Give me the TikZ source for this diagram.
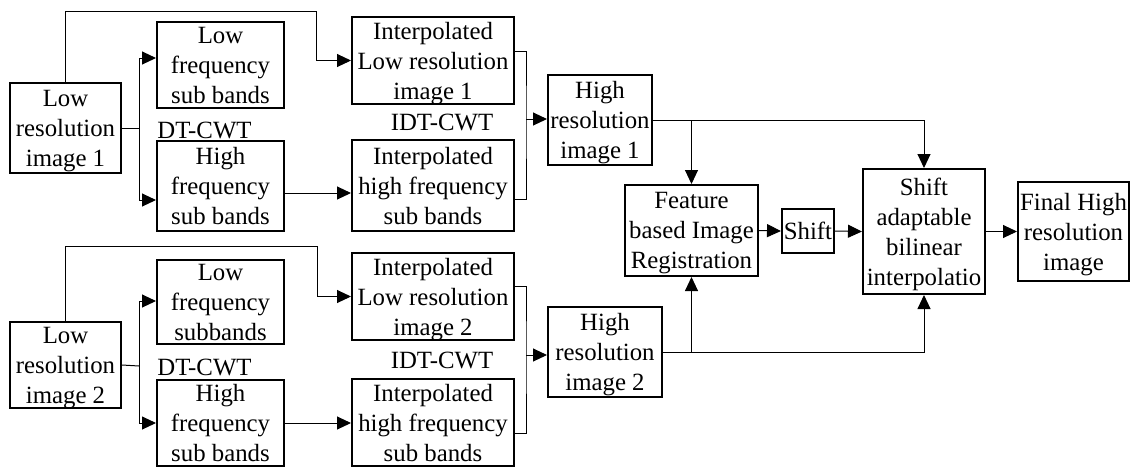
\documentclass[tikz,border=0pt]{standalone}
\usepackage{fontspec}
\setmainfont{Liberation Serif}
\usetikzlibrary{arrows.meta}

\begin{document}
\begin{tikzpicture}[x=0.5pt,y=-0.5pt,
  box/.style={draw,line width=1pt,inner sep=0pt,align=center,text depth=-3.5pt,font=\fontsize{12.4}{15}\selectfont},
  lbl/.style={inner sep=0pt,font=\fontsize{12.4}{15}\selectfont},
  arr/.style={-{Triangle[length=7pt,width=6.5pt]},line width=0.5pt},
  ln/.style={line width=0.5pt}]

\useasboundingbox (0,0) rectangle (1130,468);

% first image
\node[box,minimum width=55.5pt,minimum height=45pt,text depth=-0.5pt] (lr1) at (65.5,128) {Low\\resolution\\image 1};
\node[box,minimum width=63.5pt,minimum height=43pt] (lf1) at (220.5,65) {Low\\frequency\\sub bands};
\node[box,minimum width=63.5pt,minimum height=45pt] (hf1) at (220.5,186) {High\\frequency\\sub bands};
\node[box,minimum width=81pt,minimum height=43.5pt] (il1) at (433,60.5) {Interpolated\\Low resolution\\image 1};
\node[box,minimum width=81pt,minimum height=45.5pt] (ih1) at (433,185.5) {Interpolated\\high frequency\\sub bands};
\node[box,minimum width=52pt,minimum height=45pt] (hr1) at (600,120) {High\\resolution\\image 1};
\node[lbl,anchor=west] (dt1) at (157,130) {DT-CWT};
\node[lbl] (idt1) at (442,122) {IDT-CWT};

% second image
\node[box,minimum width=55.5pt,minimum height=43pt] (lr2) at (65.5,365) {Low\\resolution\\image 2};
\node[box,minimum width=63.5pt,minimum height=42pt] (lf2) at (220.5,302) {Low\\frequency\\subbands};
\node[box,minimum width=63.5pt,minimum height=43pt] (hf2) at (220.5,423) {High\\frequency\\sub bands};
\node[box,minimum width=81pt,minimum height=43.5pt] (il2) at (433,296.5) {Interpolated\\Low resolution\\image 2};
\node[box,minimum width=81pt,minimum height=43.5pt] (ih2) at (433,422.5) {Interpolated\\high frequency\\sub bands};
\node[box,minimum width=57pt,minimum height=45pt] (hr2) at (605,352) {High\\resolution\\image 2};
\node[lbl,anchor=west] (dt2) at (157,367) {DT-CWT};
\node[lbl] (idt2) at (442,360) {IDT-CWT};

% registration and fusion
\node[box,minimum width=66.5pt,minimum height=45.5pt] (feat) at (691.5,230.5) {Feature\\based Image\\Registration};
\node[box,minimum width=26pt,minimum height=22pt,text depth=0pt] (shift) at (808,231) {Shift};
\node[box,minimum width=61pt,minimum height=62.5pt,text depth=-5.5pt] (sabi) at (924,231.5) {Shift\\adaptable\\bilinear\\interpolatio};
\node[box,minimum width=55.5pt,minimum height=49.5pt,text depth=-2pt] (final) at (1073.5,231.5) {Final High\\resolution\\image};

\coordinate (s1) at (139,128);
\coordinate (m1) at (526,119);
\coordinate (s2) at (139,366);
\coordinate (m2) at (526,355);

\draw[arr] (lr1.north) |- (316,11) |- (il1.west);
\draw[ln] (lr1.east) -- (s1);
\draw[arr] (s1) |- ([yshift=3.5pt]lf1.west);
\draw[arr] (s1) |- ([yshift=-7pt]hf1.west);
\draw[arr] ([yshift=-3.5pt]hf1.east) -- ([yshift=-3.5pt]hf1.east -| ih1.west);
\draw[ln] ([yshift=4.75pt]il1.east) -| (m1) |- ([yshift=-6.75pt]ih1.east);
\draw[arr] (m1) -- (m1 -| hr1.west);

\draw[arr] (lr2.north) |- (317,246) |- (il2.west);
\draw[ln] (lr2.east) -- (s2);
\draw[arr] (s2) |- ([yshift=0.5pt]lf2.west);
\draw[arr] (s2) |- (hf2.west);
\draw[arr] (hf2.east) -- (hf2.east -| ih2.west);
\draw[ln] ([yshift=5.25pt]il2.east) -| (m2) |- ([yshift=-5.25pt]ih2.east);
\draw[arr] (m2) -- (m2 -| hr2.west);

\draw[arr] (hr1.east) -| (sabi.north);
\draw[arr] (feat.north |- hr1.east) -- (feat.north);
\draw[arr] (hr2.east) -| (sabi.south);
\draw[arr] (feat.south |- hr2.east) -- (feat.south);
\draw[arr] (feat.east) -- (shift.west);
\draw[arr] (shift.east) -- (sabi.west);
\draw[arr] (sabi.east) -- (final.west);
\end{tikzpicture}
\end{document}
